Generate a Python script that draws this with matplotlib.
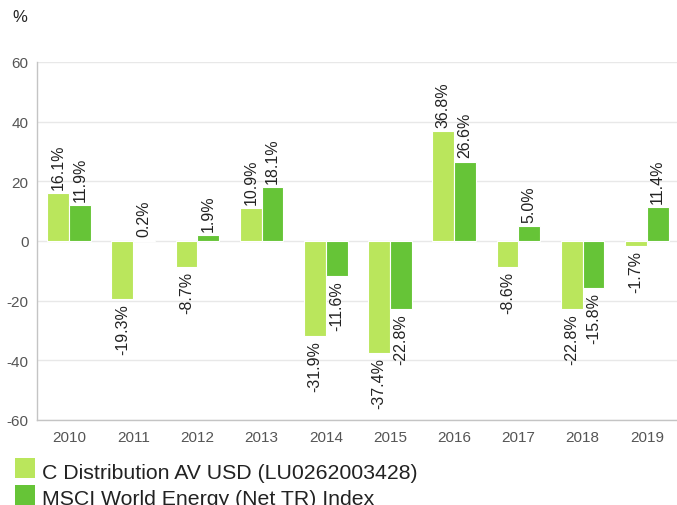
import numpy as np
import matplotlib.pyplot as plt
from matplotlib.patches import Rectangle

years = ['2010', '2011', '2012', '2013', '2014', '2015', '2016', '2017', '2018', '2019']
fund = [16.1, -19.3, -8.7, 10.9, -31.9, -37.4, 36.8, -8.6, -22.8, -1.7]
index = [11.9, 0.2, 1.9, 18.1, -11.6, -22.8, 26.6, 5.0, -15.8, 11.4]
fund_name = 'C Distribution AV USD (LU0262003428)'
index_name = 'MSCI World Energy (Net TR) Index'

COLOR_FUND = '#bae65c'
COLOR_INDEX = '#66c437'
COLOR_GRID = '#e8e8e8'
COLOR_AXIS = '#c4c4c4'
W, H = 677, 506

plt.rcParams['font.family'] = ['Liberation Sans', 'DejaVu Sans']
plt.rcParams['axes.unicode_minus'] = False

fig = plt.figure(figsize=(W / 100, H / 100), dpi=100)
ax = fig.add_axes([37 / W, 85 / H, 640 / W, 358 / H])

x = np.arange(len(years))
w = 0.34
bars_f = ax.bar(x - w / 2, fund, w, color=COLOR_FUND, edgecolor='white', linewidth=0.8, zorder=3)
bars_i = ax.bar(x + w / 2, index, w, color=COLOR_INDEX, edgecolor='white', linewidth=0.8, zorder=3)

for bars, vals in ((bars_f, fund), (bars_i, index)):
    for b, v in zip(bars, vals):
        cx = b.get_x() + b.get_width() / 2
        ax.annotate(f'{v:.1f}%', xy=(cx, v), xytext=(0, 3 if v >= 0 else -3),
                    textcoords='offset points', rotation=90, ha='center',
                    va='bottom' if v >= 0 else 'top', fontsize=11.5, color='#222222',
                    zorder=4)

ax.set_xlim(-0.5, 9.47)
ax.set_ylim(-60, 60)
ax.set_yticks(range(-60, 61, 20))
ax.set_xticks(x)
ax.set_xticklabels(years)
ax.tick_params(axis='both', length=0, labelsize=11, labelcolor='#555555')
ax.tick_params(axis='x', pad=7)
ax.tick_params(axis='y', pad=6)
ax.yaxis.grid(True, color=COLOR_GRID, linewidth=1, zorder=0)
ax.set_axisbelow(True)
for s in ('top', 'right'):
    ax.spines[s].set_visible(False)
for s in ('left', 'bottom'):
    ax.spines[s].set_color(COLOR_AXIS)
    ax.spines[s].set_linewidth(1)

fig.text(12 / W, 1 - 18 / H, '%', fontsize=12, color='#222222', va='center', ha='left')

# legend drawn by hand to match the square swatches
for i, (name, col) in enumerate(((fund_name, COLOR_FUND), (index_name, COLOR_INDEX))):
    top = 459 + i * 26.5
    fig.add_artist(Rectangle((15 / W, 1 - (top + 20) / H), 20 / W, 20 / H,
                             transform=fig.transFigure, facecolor=col, edgecolor='none'))
    fig.text(42 / W, 1 - (top + 20) / H, name, fontsize=15.3, color='#222222',
             va='baseline', ha='left')

fig.savefig('out.png', dpi=100)
